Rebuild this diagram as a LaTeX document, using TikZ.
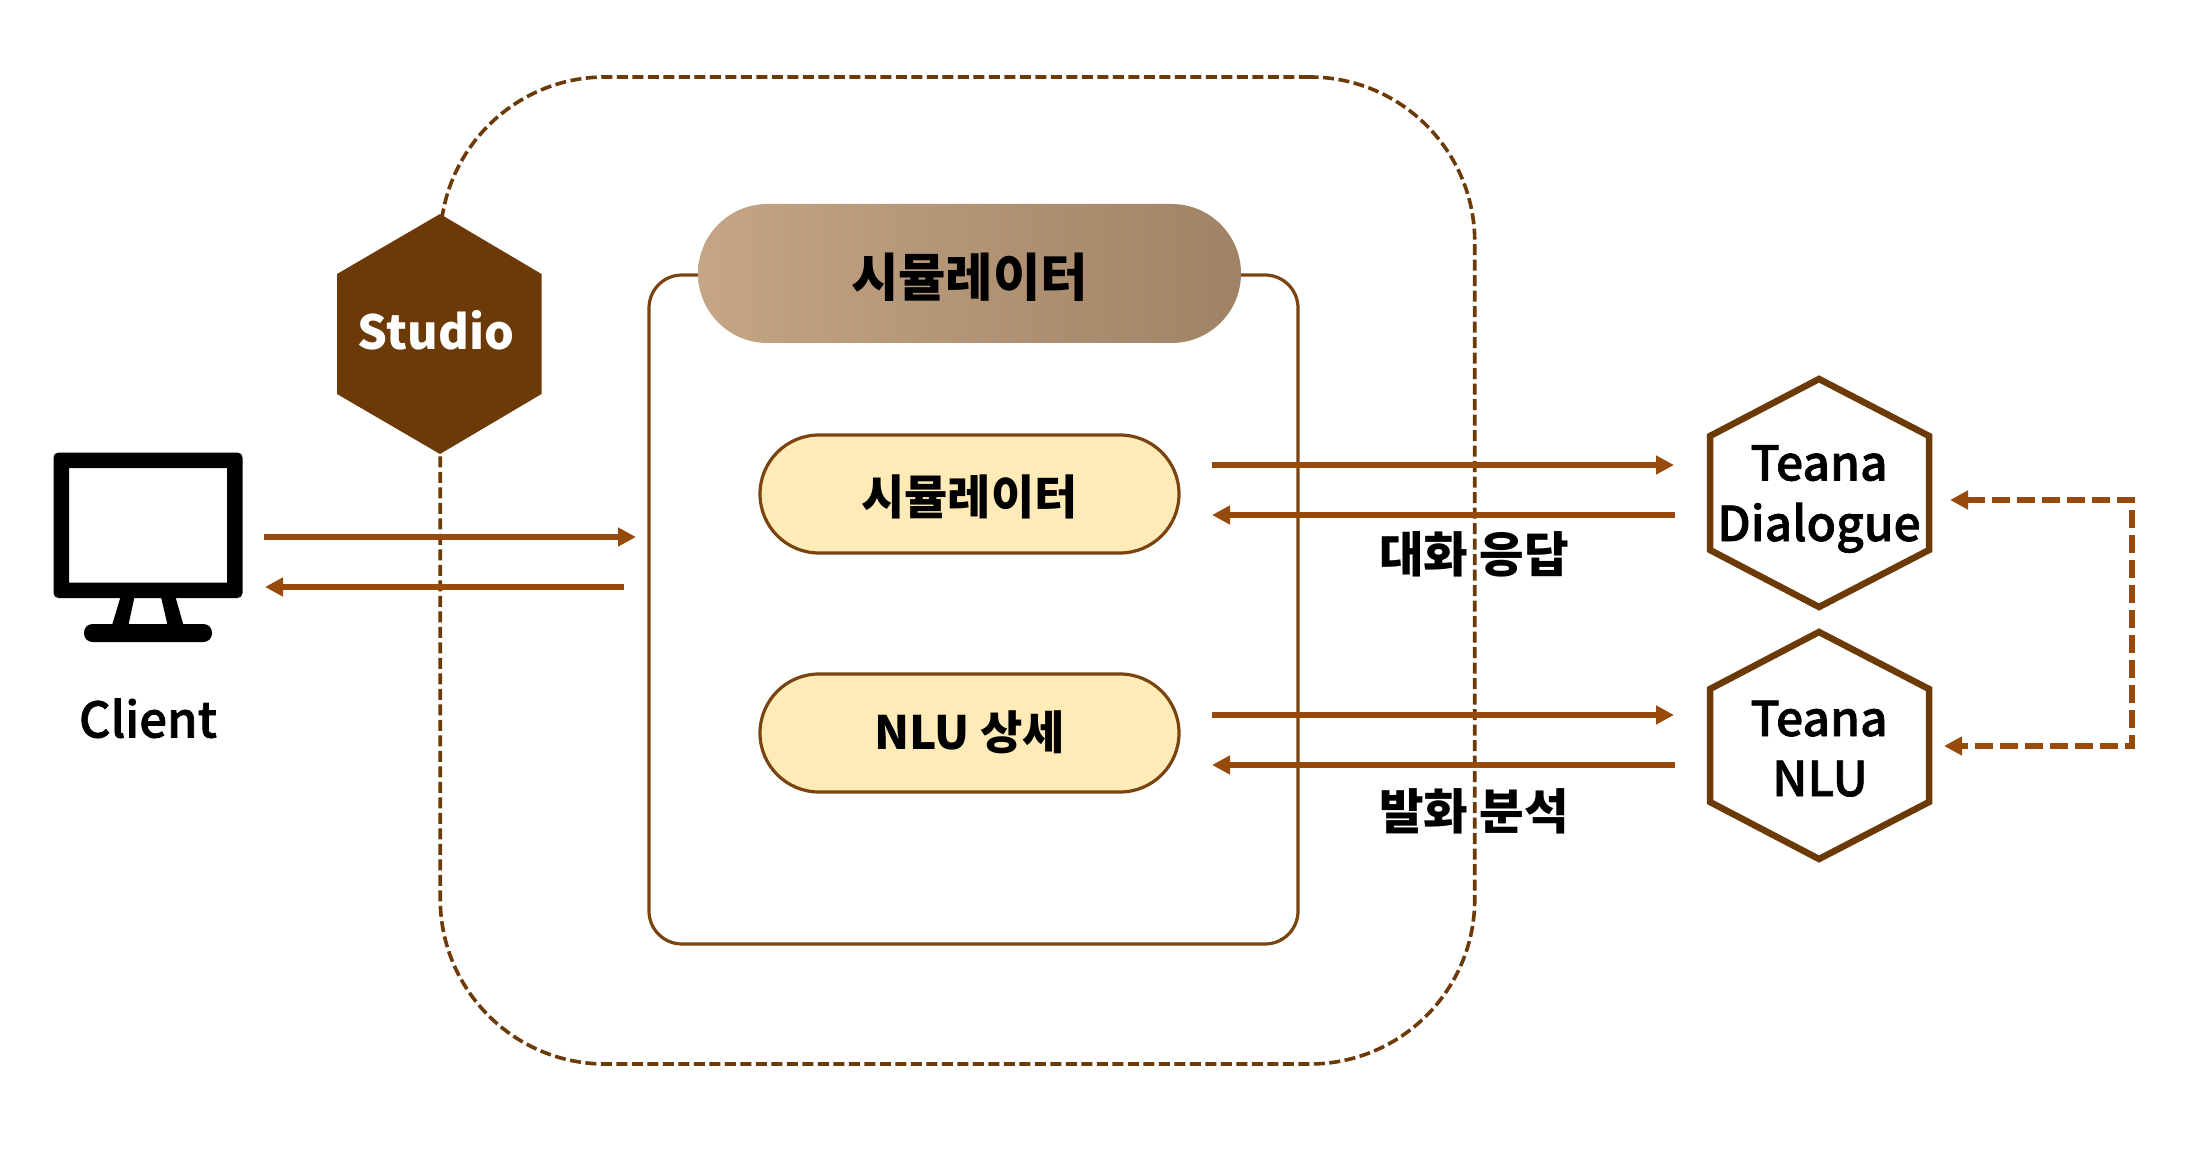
\documentclass[tikz,border=0pt]{standalone}
\usepackage{fontspec}
\setmainfont{Noto Sans CJK KR}
\newfontfamily\medfont{Noto Sans CJK KR Medium}[FakeBold=1.4]
\usetikzlibrary{arrows.meta,shapes.misc}
\definecolor{darkbr}{HTML}{6B3A07}
\definecolor{arrowbr}{HTML}{984A0B}
\definecolor{linebr}{HTML}{7A4410}
\definecolor{pillfill}{HTML}{FFEBB8}
\definecolor{gradl}{HTML}{C4A687}
\definecolor{gradr}{HTML}{A08264}
\newcommand{\fs}[1]{\fontsize{#1}{#1}\selectfont\bfseries}
\newcommand{\fm}[1]{\fontsize{#1}{#1}\medfont}
\tikzset{
  x=1pt,y=-1pt,
  kolabel/.style={inner sep=0pt,outer sep=0pt,text height=41pt,text depth=5pt,align=center},
  latlabel/.style={inner sep=0pt,outer sep=0pt,text height=34pt,text depth=0pt,align=center},
  pillbox/.style={rounded rectangle,draw=linebr,line width=3.2pt,fill=pillfill,minimum width=419pt,minimum height=118pt,inner sep=0pt,text height=38pt,text depth=5pt,font=\fs{46}},
  hexline/.style={draw=darkbr,line width=6.5pt,line join=miter,fill=white},
  flow/.style={draw=arrowbr,line width=6pt,-{Triangle[length=18pt,width=18pt]}},
  dashflow/.style={draw=arrowbr,line width=5.6pt,dash pattern=on 18pt off 7pt,{Triangle[length=18pt,width=18pt]}-{Triangle[length=18pt,width=18pt]}},
}
\begin{document}
\begin{tikzpicture}
\useasboundingbox (0,0) rectangle (2189,1155);
\fill[white] (0,0) rectangle (2189,1155);

% outer dashed region
\node[draw=darkbr,line width=3.6pt,dash pattern=on 11pt off 4.5pt,rounded corners=165pt,minimum width=1034.5pt,minimum height=987pt,inner sep=0pt] (region) at (957.5,570.5) {};

% inner panel
\node[draw=linebr,line width=3.2pt,rounded corners=33pt,minimum width=649pt,minimum height=669pt,inner sep=0pt] (panel) at (973.5,609.5) {};

% Studio hexagon
\fill[darkbr] (440,214) -- (541.5,274) -- (541.5,394) -- (440,454) -- (337,394) -- (337,274) -- cycle;
\node[latlabel,text=white,font=\fs{47}] (studio) at (436,332) {Studio};

% title pill
\node[rounded rectangle,left color=gradl,right color=gradr,minimum width=543pt,minimum height=139pt,inner sep=0pt,text height=51pt,text depth=5pt,font=\fs{51.5}] (title) at (969.5,273.5) {시뮬레이터};

% inner pills
\node[pillbox,font=\fs{47},text height=46pt] (sim) at (969.5,494) {시뮬레이터};
\node[pillbox] (nlu) at (969.5,733) {NLU 상세};

% monitor
\fill[black,even odd rule,rounded corners=5pt]
  (53.5,452.5) rectangle (242.5,598)
  [sharp corners] (69,468) rectangle (227,582.6);
\fill[black] (120.5,597) -- (134.5,597) -- (128,627) -- (111.5,627) -- cycle;
\fill[black] (161,597) -- (175.5,597) -- (184,627) -- (168,627) -- cycle;
\fill[black,rounded corners=8.5pt] (84,624) rectangle (212,642);
\node[latlabel,font=\fm{49}] (client) at (148,720.5) {Client};

% Teana hexagons
\path[hexline] (1819,379) -- (1929,436) -- (1929,550) -- (1819,607) -- (1710,550) -- (1710,436) -- cycle;
\path[hexline] (1819,632) -- (1929,689) -- (1929,802) -- (1819,859) -- (1710,802) -- (1710,689) -- cycle;
\node[latlabel,font=\fm{48}] (t1) at (1819,463.5) {Teana};
\node[latlabel,font=\fm{48}] (d1) at (1819,524) {Dialogue};
\node[latlabel,font=\fm{48}] (t2) at (1819,719) {Teana};
\node[latlabel,font=\fm{48}] (n2) at (1820,779) {NLU};

% edge labels
\node[kolabel,font=\fs{48.5}] (lab1) at (1474,554) {대화 응답};
\node[kolabel,font=\fs{48.5}] (lab2) at (1474,811) {발화 분석};

% free ends of connectors
\coordinate (ca) at (264,537);  \coordinate (cb) at (636,537);
\coordinate (cc) at (624,587);  \coordinate (cd) at (265,587);
\coordinate (ce) at (1212,465); \coordinate (cf) at (1674,465);
\coordinate (cg) at (1675,515); \coordinate (ch) at (1212,515);
\coordinate (ci) at (1212,715); \coordinate (cj) at (1674,715);
\coordinate (ck) at (1675,765); \coordinate (cl) at (1212,765);
\coordinate (cm) at (1950,500); \coordinate (cn) at (2132,500);
\coordinate (co) at (2132,746); \coordinate (cp) at (1944,746);

\draw[flow] (ca) -- (cb);
\draw[flow] (cc) -- (cd);
\draw[flow] (ce) -- (cf);
\draw[flow] (cg) -- (ch);
\draw[flow] (ci) -- (cj);
\draw[flow] (ck) -- (cl);
\draw[dashflow] (cm) -- (cn) -- (co) -- (cp);
\end{tikzpicture}
\end{document}
